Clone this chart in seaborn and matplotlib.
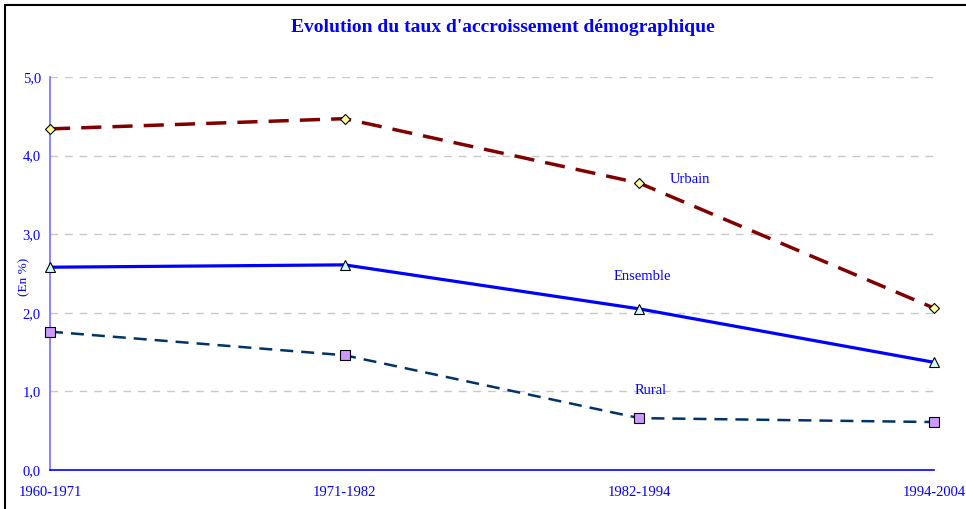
import matplotlib
matplotlib.use("Agg")
import matplotlib.pyplot as plt
import seaborn as sns
import pandas as pd
from matplotlib.patches import Rectangle
from matplotlib.ticker import FuncFormatter

periods = ["1960-1971", "1971-1982", "1982-1994", "1994-2004"]
urbain = [4.34, 4.47, 3.65, 2.06]
ensemble = [2.58, 2.61, 2.05, 1.37]
rural = [1.76, 1.46, 0.66, 0.61]
series_names = ["Urbain", "Ensemble", "Rural"]
yticks = [0, 1, 2, 3, 4, 5]

sns.set_style("white")
plt.rcParams["font.family"] = ["Liberation Serif", "DejaVu Serif"]

df = pd.DataFrame({"x": list(range(len(periods))) * 3,
                   "val": urbain + ensemble + rural,
                   "serie": [s for s in series_names for _ in periods]})

fig = plt.figure(figsize=(9.66, 5.09), dpi=100)
ax = fig.add_axes([50/966, 1-470/509, (934-50)/966, (470-77)/509])

styles = {
    "Urbain": dict(color="#800000", lw=2.5, ls=(0, (5.8, 3.2)), marker="D", ms=5.5, mfc="#FFFF99"),
    "Ensemble": dict(color="#0000FF", lw=2.3, ls="-", marker="^", ms=7, mfc="#CCFFFF"),
    "Rural": dict(color="#003366", lw=1.8, ls=(0, (5.2, 3.2)), marker="s", ms=6.5, mfc="#CC99FF"),
}
for name in series_names:
    st = styles[name]
    sub = df[df.serie == name]
    sns.lineplot(data=sub, x="x", y="val", ax=ax, color=st["color"], linewidth=st["lw"],
                 linestyle=st["ls"], legend=False, zorder=3)
    ax.plot(sub["x"], sub["val"], ls="none", marker=st["marker"], ms=st["ms"],
            mfc=st["mfc"], mec="black", mew=0.8, zorder=4, clip_on=False)

ax.set_xlim(0, 3)
ax.set_ylim(0, 5)
ax.set_xticks(range(len(periods)))
ax.set_xticklabels(periods)
ax.set_yticks(yticks)
ax.yaxis.set_major_formatter(FuncFormatter(lambda v, p: f"{v:.1f}".replace(".", ",")))
ax.set_xlabel("")
ax.set_ylabel("(En %)", color="#0000FF", fontsize=9.5)
ax.yaxis.set_label_coords((30-50)/884, (470-277)/393)
ax.tick_params(axis="both", colors="#0000FF", labelcolor="#0000FF", labelsize=10.5,
               direction="inout", length=7, width=1)
ax.tick_params(axis="x", pad=8)
ax.tick_params(axis="y", pad=3)
for sp in ["top", "right"]:
    ax.spines[sp].set_visible(False)
ax.spines["left"].set_color("#7070FF")
ax.spines["bottom"].set_color("#0000FF")
ax.spines["left"].set_linewidth(1.2)
ax.spines["bottom"].set_linewidth(1.2)
for y in yticks[1:]:
    ax.axhline(y, color="#C8C8C8", lw=1, ls=(0, (5.5, 5)), zorder=1)

ax.text(2.17, 3.70, "Urbain", color="#0000FF", fontsize=10.5, ha="center", va="center")
ax.text(2.01, 2.46, "Ensemble", color="#0000FF", fontsize=10.5, ha="center", va="center")
ax.text(2.04, 1.01, "Rural", color="#0000FF", fontsize=10.5, ha="center", va="center")

fig.text(503/966, 1-28/509, "Evolution du taux d'accroissement démographique",
         color="#0000FF", fontsize=14, fontweight="bold", ha="center", va="center")

fig.patches.append(Rectangle((5/966, -0.1), 1.2, (1-5/509) + 0.1, transform=fig.transFigure,
                             fill=False, ec="black", lw=1.5, zorder=0))

fig.savefig("out.png", dpi=100)
